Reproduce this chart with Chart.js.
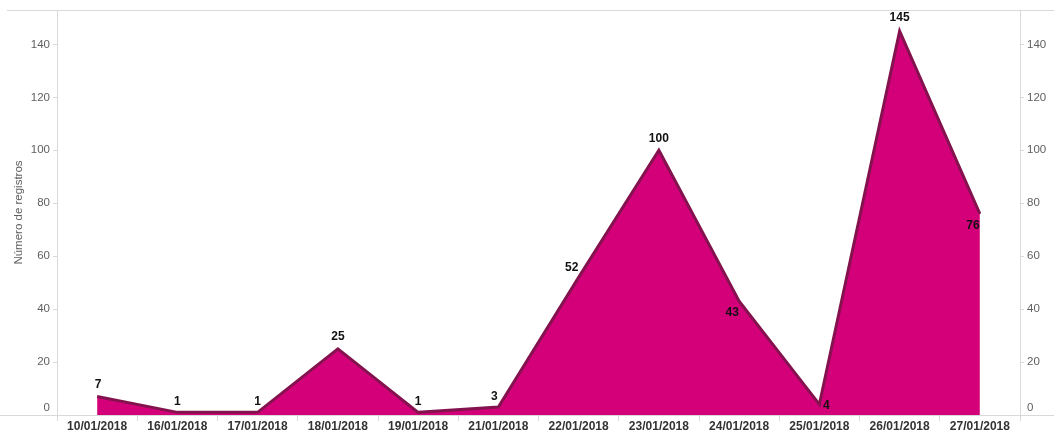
<!DOCTYPE html>
<html>
<head>
<meta charset="utf-8">
<script src="https://cdn.jsdelivr.net/npm/chart.js@4/dist/chart.umd.min.js"></script>
<style>
  html, body { margin: 0; padding: 0; background: #fff; }
  canvas { display: block; }
</style>
</head>
<body>
<canvas id="chart1" width="1054" height="431"></canvas>
<script>
const fechas = [
  "10/01/2018", "16/01/2018", "17/01/2018", "18/01/2018", "19/01/2018", "21/01/2018",
  "22/01/2018", "23/01/2018", "24/01/2018", "25/01/2018", "26/01/2018", "27/01/2018",
];
const registros = [7, 1, 1, 25, 1, 3, 52, 100, 43, 4, 145, 76];
const yTicks = [0, 20, 40, 60, 80, 100, 120, 140];

// where each value label sits relative to its point (dx, dy)
const labelPos = [
  [1, -12], [0, -11], [0, -11], [0, -12], [0, -11], [-4, -10],
  [-7, -10], [0, -12], [-7, 12], [7, 1], [0, -13], [-7, 12],
];

const tickFont = { family: "'Liberation Sans', Arial, sans-serif", size: 11.5 };

const frame = {
  id: "frame",
  afterDraw(chart) {
    const { ctx, chartArea } = chart;
    ctx.save();
    ctx.strokeStyle = "#d9d9d9";
    ctx.lineWidth = 1;
    ctx.beginPath();
    ctx.moveTo(7, chartArea.top + 0.5);
    ctx.lineTo(chart.width, chartArea.top + 0.5);
    ctx.moveTo(0, chartArea.bottom + 0.5);
    ctx.lineTo(chart.width, chartArea.bottom + 0.5);
    ctx.stroke();

    // the zero tick label sits a bit above the axis, inside the band
    ctx.font = "11.5px 'Liberation Sans', Arial, sans-serif";
    ctx.fillStyle = "#5f5f5f";
    ctx.textBaseline = "middle";
    const y0 = chart.scales.y.getPixelForValue(0) - 7;
    ctx.textAlign = "right";
    ctx.fillText("0", chartArea.left - 7, y0);
    ctx.textAlign = "left";
    ctx.fillText("0", chartArea.right + 7, y0);
    ctx.restore();
  },
};

const valueLabels = {
  id: "valueLabels",
  afterDatasetsDraw(chart) {
    const ctx = chart.ctx;
    const meta = chart.getDatasetMeta(0);
    ctx.save();
    ctx.font = "bold 12px 'Liberation Sans', Arial, sans-serif";
    ctx.fillStyle = "#111";
    ctx.textAlign = "center";
    ctx.textBaseline = "middle";
    meta.data.forEach((pt, i) => {
      const [dx, dy] = labelPos[i];
      ctx.fillText(String(registros[i]), pt.x + dx, pt.y + dy);
    });
    ctx.restore();
  },
};

const hideZero = (v) => (v === 0 ? "" : v);

const ctx1 = document.getElementById("chart1").getContext("2d");
const chart1 = new Chart(ctx1, {
  type: "line",
  data: {
    labels: fechas,
    datasets: [
      {
        data: registros,
        borderColor: "#84124f",
        borderWidth: 3,
        backgroundColor: "#d4007a",
        fill: "origin",
        tension: 0,
        pointRadius: 0,
        yAxisID: "y",
      },
    ],
  },
  options: {
    responsive: false,
    animation: false,
    layout: { padding: { top: 10, left: 0, right: 0, bottom: 0 } },
    plugins: {
      legend: { display: false },
      tooltip: { enabled: false },
    },
    scales: {
      x: {
        offset: true,
        grid: { offset: true, drawOnChartArea: false, drawTicks: true, tickLength: 6, color: "#d9d9d9" },
        border: { display: false },
        ticks: {
          autoSkip: false,
          maxRotation: 0,
          padding: -2,
          color: "#333",
          font: { ...tickFont, size: 12, weight: "bold" },
        },
        afterFit: (s) => { s.height = 16; },
      },
      y: {
        position: "left",
        min: 0,
        max: 153,
        afterBuildTicks: (s) => { s.ticks = yTicks.map((v) => ({ value: v })); },
        grid: { drawOnChartArea: false, drawTicks: true, tickLength: 4, color: "#d9d9d9" },
        border: { display: true, color: "#d9d9d9" },
        ticks: { color: "#5f5f5f", font: tickFont, padding: 3, callback: hideZero },
        title: {
          display: true,
          text: "Número de registros",
          color: "#5f5f5f",
          font: tickFont,
          padding: { top: 12, bottom: 0 },
        },
        afterFit: (s) => { s.width = 57; },
      },
      y2: {
        position: "right",
        min: 0,
        max: 153,
        afterBuildTicks: (s) => { s.ticks = yTicks.map((v) => ({ value: v })); },
        grid: { drawOnChartArea: false, drawTicks: true, tickLength: 4, color: "#d9d9d9" },
        border: { display: true, color: "#d9d9d9" },
        ticks: { color: "#5f5f5f", font: tickFont, padding: 3, callback: hideZero },
        afterFit: (s) => { s.width = 34; },
      },
    },
  },
  plugins: [frame, valueLabels],
});
</script>
</body>
</html>
